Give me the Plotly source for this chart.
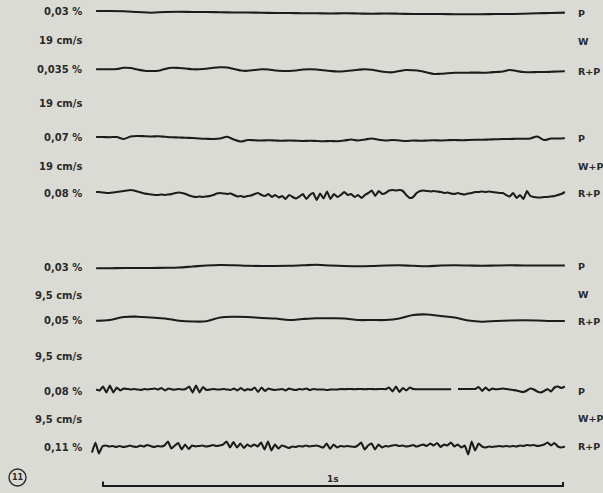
import numpy as np
import plotly.graph_objects as go

# ---------------- data ----------------
# time span of each recording in seconds (scale bar = 1 s)
T_START = -0.015
T_END = 1.004
T_START_LAST = -0.024
SCALE_BAR_S = [0.0, 1.0]

left_labels = ["0,03 %", "19 cm/s", "0,035 %", "19 cm/s", "0,07 %", "19 cm/s", "0,08 %",
               "0,03 %", "9,5 cm/s", "0,05 %", "9,5 cm/s", "0,08 %", "9,5 cm/s", "0,11 %"]
right_labels = ["P", "W", "R+P", "P", "W+P", "R+P",
                "P", "W", "R+P", "P", "W+P", "R+P"]

# pen deflection of each trace (up = positive)
dev_19_P = [1, 1, 0.7, 0, -0.7, 0, 0.3, 0, 0, -0.3, -0.5, -0.5, -0.8, -1, -1, -1.2, -1.3, -1.5,
            -1.3, -1.5, -1.7, -1.5, -1.7, -2, -2, -2, -2.2, -2.3, -2.2, -2, -2, -1.7, -1.3, -1, -0.6]

dev_19_RP = [0.7, 0.7, 0.7, 1, 2.2, 2, 0.5, -0.8, -1, -0.8, 1, 2.2, 2, 1.5, 0.7, 0.7, 1.2, 2.2,
             2.7, 2.5, 1, -0.5, -0.8, 0, 0.8, 0.5, -0.5, -1, -1, -0.5, 0.5, 0.7, 0.5, -0.3, -1,
             -1.5, -1.2, -0.5, 0.2, 0.7, 0.2, -1, -2, -2.3, -1, 0, -0.3, -1, -2.5, -4, -3.8, -3.2,
             -2.8, -2.8, -2.7, -2.6, -2.7, -2.5, -2, -1.5, 0, -1, -2, -2.3, -2, -2, -1.8, -1.5, -1.3]

dev_19_WP_P = [1, 1, 0.8, 1, -1, 1.5, 2, 1.8, 1.5, 1.7, 1.2, 0.7, 0.5, 0.2, 0, -0.5, -0.8, -1,
               -0.5, 1.2, -1.5, -3.5, -2, -2.3, -2.5, -2.2, -2.5, -2.8, -2.5, -2.7, -3, -2.7, -3,
               -3.2, -3, -3.2, -2.5, -1.5, -2.5, -1.5, -0.5, -1.8, -2.5, -2, -2.5, -3, -2.5, -2.8,
               -2.5, -2.3, -2.5, -2.2, -2, -2.3, -2, -1.8, -1.8, -1.5, -1.3, -1, -1, -0.8, -0.8,
               -0.5, 1.5, -2, -0.5, -0.5, -0.3]

dev_19_WP_RP = [1, 1, 0.5, 0, 0, 0.5, 1, 1.5, 2, 2.5, 3, 2.5, 1.5, 0.5, -0.5, -1, -1.5, -2, -2,
                -1.5, -2, -1.5, -1, 0, 0.5, 0, -1, -2.5, -3.5, -4, -3.5, -4, -3.5, -3, -2, -0.5,
                0, -0.5, -1, -0.5, -2, -3.5, -3, -4, -3, -2.5, -1, 0, -2, -3, -1, -4, -2, -4.5,
                -3, -6, -2, -4, -5.5, -3.5, -1, -6, -2, 0, -7, -0.5, -5.5, 1.5, -6, -1, -4,
                -2, 1, -2, -1, -4, -2, -5, -2, 0, 2.5, -3, 2, -1, 0, 2.5, 3, 2.5, 3, 2, -2,
                -5, -4, 0, 2, 2.5, 2, 1.5, 2, 1.5, 1, 0, 0.5, -0.5, -1, 0, -1, -1.5, -0.5, 0, 1,
                1, 1.5, 1, 1.5, 1, 0.5, 0, 0, -2, -3.5, 0, -5, -2, -6, 2, -3, -4, -4.5, -4.5, -4,
                -4, -3.5, -3, -2, -1, 1]

dev_95_P = [-1.3, -1.3, -1, -1, -1, -0.8, -0.5, 0.5, 1.5, 2, 1.7, 1.2, 1, 1, 1.2, 1.7, 2.2, 1.5,
            1, 0.8, 1, 1.5, 1.7, 1.2, 0.8, 1.5, 1.7, 1.5, 1.2, 1.5, 1.7, 1.5, 1.5, 1.5, 1.5]

dev_95_RP = [-0.7, 0, 3, 3.3, 2.5, 1.5, -0.7, -1.5, -1.2, 2.5, 3.3, 3, 2, 1.5, 0, 1, 1.7, 1.7,
             1.5, 0, 0, 0, 1.5, 5, 5.5, 4, 2.5, -0.5, -1.7, -1, -0.5, -0.3, -0.5, -1, -1]

dev_95_WP_P = [0, -1, 3, -3, 4, -3, 2, -1, 1, 0.5, 0, 0.5, 0, -0.5, 0.5, 0, 0.5, 1, 0, 1.5,
               -1, 1, 0, 0, 0.5, 0, 0.5, 3, -3, 4, -3, 2.5, -0.5, 0, 0.5, 0, 0, 0.5, 0, -0.5,
               1, -1, 1.5, -1, 0.5, -0.5, 2, -2.5, 2, -1.5, 1, 0, -0.5, 0, 0.5, -1, 1, 0, -0.5, 0.5,
               0, 1, -0.5, 0.5, 0, 0, 0, -0.5, 0, 0, 0,
               0.5, 0.3, 0.5, 0.5, 0.3, 0.5, 0.5, 0.3, 0.5, 0.5, 0.3, 0.5, 0.5, 0.3,
               2, -2, 3, -2.5, 1.5, -1, 2, 0.5,
               0.3, 0.3, 0.3, 0.3, 0.3, 0.3, 0.3, 0.3, 0.3, 0.3, 0.3,
               None,
               0.5, 0.5, 0.5, 0.5, 0.5, 0.5,
               2.5, -1.5, 2, -1, 1, 0,
               0.5, 1, 0.5, 0, -0.5, -1, -2, -2.5, -1,
               1, 0, -2, -3, -1.5, 0.5, -2, 2, 3, 1.5, 3]

dev_95_WP_RP = [-6, 4, -7, 0, 1, 0, 0.5, -0.5, 0.5, -0.5, 0, 1, 0, -0.5, 1, 0, 1.5, 0.5, -0.5, 0.5,
                0, 1, 5, -2, 1, 3.5, -3, 2, -2.5, 1, 0, 0.5, 1, 0, 0.5, 1.5, 0.5, 1, 2, 5,
                -1, 4.5, -1, 3, -1.5, 2, 0, 2, 0, 4, -3, 5, -4, 2, -2, 1, 0, -1.5, 0, -0.5,
                0.5, 0, 1, 0, 0.5, 1, 0, -1, 3, -2.5, 2, -1, 0.5, 0, 0.5, 0, -0.5, 1, 4, -3,
                1, 3, -3, 2, -1, 0.5, 0, 1, 1.5, 0.5, 1, 0, 0.5, 1.5, 0, 1, 2, 0.5, 3, 1,
                3.5, -0.5, 2, 1, 4, 0, 2, -1, 1, -8, 5, -4, 3, 0, -1, 0, -0.5, 0, 0.5, 0,
                0.5, 0, 0.5, 0, 1, 0.5, 1.5, 1, 1.5, 0.5, 1, 2, 4, 1, 3.5, 0, -1, 0]

# ---------------- layout constants ----------------
W, H = 603, 493
PX_PER_S = 460.0
X0_PX = 103.0
BG = "#dbdbd6"
INK = "#1c1c1c"
TXT = "#2a2a2a"

# (deflections, baseline row, start time, smoothing)
traces = [
    (dev_19_P, 12, T_START, 1.0),
    (dev_19_RP, 70, T_START, 1.0),
    (dev_19_WP_P, 138, T_START, 0.8),
    (dev_19_WP_RP, 193, T_START, 0.4),
    (dev_95_P, 267, T_START, 1.0),
    (dev_95_RP, 320, T_START, 1.0),
    (dev_95_WP_P, 389.5, T_START, 0.35),
    (dev_95_WP_RP, 446.5, T_START_LAST, 0.35),
]
left_rows = [11, 40, 69, 103, 137, 166, 193, 267, 295, 320, 356, 391, 419, 447]
right_rows = [13, 41, 71, 138, 166, 193, 266, 294, 321, 391, 418, 446]

fig = go.Figure()
for dev, base, t0, sm in traces:
    t = np.linspace(t0, T_END, len(dev))
    y = [None if d is None else base - d for d in dev]
    fig.add_trace(go.Scatter(x=t, y=y, mode="lines",
                             line=dict(color=INK, width=2.1, shape="spline", smoothing=sm),
                             connectgaps=False, hoverinfo="skip", showlegend=False))

# scale bar (1 s)
bar_row = 486
fig.add_trace(go.Scatter(x=[SCALE_BAR_S[0], SCALE_BAR_S[0], SCALE_BAR_S[1], SCALE_BAR_S[1]],
                         y=[bar_row - 4.5, bar_row, bar_row, bar_row - 4],
                         mode="lines", line=dict(color=INK, width=2),
                         hoverinfo="skip", showlegend=False))

ann = []
font = dict(family="DejaVu Sans", size=10, color=TXT, weight="bold")
rfont = dict(family="DejaVu Sans", size=9.5, color=TXT, weight="bold")
for txt, row in zip(left_labels, left_rows):
    ann.append(dict(text=txt, x=84 / W, y=row, xref="paper", yref="y",
                    xanchor="right", yanchor="middle", showarrow=False, font=font))
for txt, row in zip(right_labels, right_rows):
    ann.append(dict(text=txt, x=576 / W, y=row, xref="paper", yref="y",
                    xanchor="left", yanchor="middle", showarrow=False, font=rfont))
ann.append(dict(text="1s", x=0.5 * (SCALE_BAR_S[0] + SCALE_BAR_S[1]), y=479,
                xref="x", yref="y", xanchor="center", yanchor="middle", showarrow=False,
                font=dict(family="DejaVu Sans", size=9, color=TXT, weight="bold")))
ann.append(dict(text="11", x=17.5 / W, y=477, xref="paper", yref="y",
                xanchor="center", yanchor="middle", showarrow=False,
                font=dict(family="DejaVu Sans", size=8, color=TXT, weight="bold")))

shapes = [dict(type="circle", xref="paper", yref="y",
               x0=9 / W, x1=26 / W, y0=469, y1=486,
               line=dict(color=TXT, width=1.4))]

fig.update_layout(
    width=W, height=H, autosize=False,
    margin=dict(l=0, r=0, t=0, b=0),
    paper_bgcolor=BG, plot_bgcolor=BG,
    xaxis=dict(range=[(0 - X0_PX) / PX_PER_S, (W - X0_PX) / PX_PER_S],
               visible=False, fixedrange=True),
    yaxis=dict(range=[H, 0], visible=False, fixedrange=True),
    annotations=ann, shapes=shapes,
)

fig.write_html("out.html",
               config={"displayModeBar": False, "staticPlot": True},
               post_script="document.body.style.margin='0';"
                           "document.body.style.background='%s';" % BG)
